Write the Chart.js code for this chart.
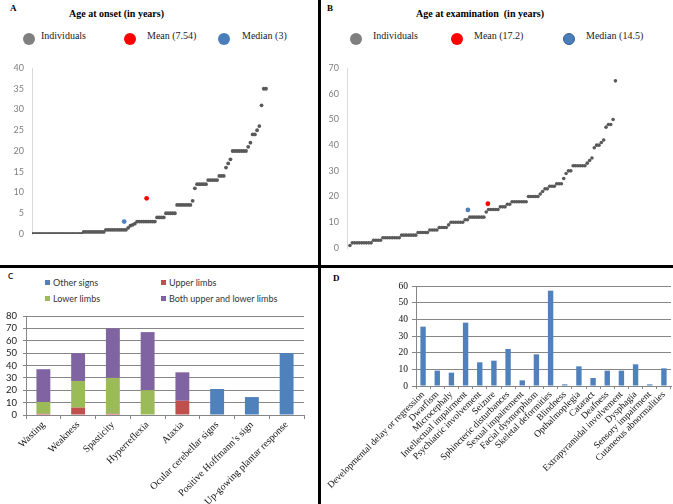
<!DOCTYPE html>
<html>
<head>
<meta charset="utf-8">
<script src="https://cdn.jsdelivr.net/npm/chart.js@4.4.1/dist/chart.umd.min.js"></script>
<style>
  body { margin: 0; width: 673px; height: 504px; position: relative; background: #fff; overflow: hidden; }
  .box { position: absolute; }
  .txt { position: absolute; white-space: nowrap; line-height: 1; }
  .serif { font-family: 'Liberation Serif', 'Times New Roman', serif; }
  .sans { font-family: Lato, 'Liberation Sans', sans-serif; }
  .dot { position: absolute; border-radius: 50%; box-sizing: border-box; }
  .sq { position: absolute; width: 5px; height: 5px; }
  .rule { position: absolute; background: #000; }
</style>
</head>
<body>

<div class="rule" style="left:318px; top:0; width:3px; height:504px;"></div>
<div class="rule" style="left:0; top:265px; width:673px; height:3px;"></div>

<!-- panel letters and titles -->
<div class="txt serif" style="left:10px; top:4px; font-size:9px; font-weight:bold;">A</div>
<div class="txt serif" style="left:327px; top:4px; font-size:9px; font-weight:bold;">B</div>
<div class="txt sans" style="left:8px; top:272px; font-size:8px; font-weight:bold; color:#222;">C</div>
<div class="txt serif" style="left:333px; top:274px; font-size:9px; font-weight:bold;">D</div>
<div class="txt serif" style="left:69px; top:9px; font-size:10px; font-weight:bold;">Age at onset (in years)</div>
<div class="txt serif" style="left:416px; top:9px; font-size:10px; font-weight:bold; white-space:pre;">Age at examination  (in years)</div>

<div id="legendA"></div>
<div id="legendB"></div>
<div id="legendC"></div>

<div class="box" style="left:0; top:62px; width:318px; height:178px;"><canvas id="chartA"></canvas></div>
<div class="box" style="left:322px; top:62px; width:351px; height:192px;"><canvas id="chartB"></canvas></div>
<div class="box" style="left:0; top:305px; width:318px; height:199px;"><canvas id="chartC"></canvas></div>
<div class="box" style="left:322px; top:280px; width:351px; height:224px;"><canvas id="chartD"></canvas></div>

<script>
// panel A - age at onset, sorted individuals
const ageOnset = [
  0, 0, 0, 0, 0, 0, 0, 0, 0, 0, 0, 0, 0, 0, 0, 0, 0, 0, 0, 0, 0, 0, 0,
  0.5, 0.5, 0.5, 0.5, 0.5, 0.5, 0.5, 0.5, 0.5, 0.5,
  1, 1, 1, 1, 1, 1, 1, 1, 1, 1,
  1.5, 2, 2.2, 2.5,
  3, 3, 3, 3, 3, 3, 3, 3, 3,
  4, 4, 4, 4,
  5, 5, 5, 5, 5,
  7, 7, 7, 7, 7, 7, 7,
  8, 11,
  12, 12, 12, 12, 12,
  13, 13, 13, 13, 13,
  14, 14, 14,
  16, 17, 18,
  20, 20, 20, 20, 20, 20, 20,
  21, 22, 24, 24, 25, 26, 31, 35, 35
];
const meanOnset = { label: 'Mean (7.54)', pos: 51.3, value: 8.6 };
const medianOnset = { label: 'Median (3)', pos: 41.2, value: 3 };

// panel B - age at examination, sorted individuals
const ageExam = [
  1,
  2, 2, 2, 2, 2, 2, 2, 2, 2,
  3, 3, 3, 3,
  4, 4, 4, 4, 4, 4, 4, 4,
  5, 5, 5, 5, 5, 5, 5,
  6, 6, 6, 6, 6,
  7, 7, 7, 7,
  8, 8, 8, 8,
  9,
  10, 10, 10, 10, 10, 10,
  11, 11,
  12, 12, 12, 12, 12, 12, 12,
  14,
  15, 15, 15, 15, 15,
  16, 16, 16,
  17, 17,
  18, 18, 18, 18, 18, 18, 18,
  20, 20, 20, 20, 20,
  21, 22, 23, 23,
  24, 24, 24,
  25, 25, 25,
  27, 29, 30, 30,
  32, 32, 32, 32, 32, 32,
  33, 34, 35,
  39, 40, 40, 41, 42,
  47, 48, 48,
  50, 65
];
const meanExam = { label: 'Mean (17.2)', pos: 58.7, value: 17.2 };
const medianExam = { label: 'Median (14.5)', pos: 50.2, value: 14.8 };

// panel C - neurological signs
const signLabels = ['Wasting', 'Weakness', 'Spasticity', 'Hyperreflexia', 'Ataxia',
  'Ocular cerebellar signs', 'Positive Hoffmann\u2019s sign', 'Up-gowing plantar response'];
const otherSigns = [0, 0, 0, 0, 0, 21, 14.5, 50];
const upperLimbs = [1, 6, 1, 0, 11.5, 0, 0, 0];
const lowerLimbs = [9.5, 21.5, 29, 20, 0, 0, 0, 0];
const bothLimbs = [26.5, 22.5, 40, 47, 23, 0, 0, 0];

// panel D - other features
const featureLabels = ['Developmental delay or regression', 'Dwarfism', 'Microcephaly',
  'Intellectual impairment', 'Psychiatric involvement', 'Seizure', 'Sphincteric disturbances',
  'Sexual impairement', 'Facial dysmorphism', 'Skeletal deformities', 'Blindness',
  'Opthalmoplegia', 'Cataract', 'Deafness', 'Extrapyramidal involvement', 'Dysphagia',
  'Sensory impairment', 'Cutaneous abnormalities'];
const featureValues = [35.6, 9.2, 8, 38, 14.2, 15.2, 22.2, 3.4, 19, 57.2, 1, 11.8, 4.8, 9.2, 9.2, 13, 1, 10.6];

const GRAY_DOT = '#595959';
const RED = '#ff0000';
const BLUE = '#4f81bd';
const C_BLUE = '#4f81bd', C_RED = '#c0504d', C_GREEN = '#9bbb59', C_PURPLE = '#8064a2';

// fixed axis sizes so the plot areas land where the figure has them
function fixWidth(w) {
  return function (scale) { scale.width = w; scale.paddingTop = 0; scale.paddingBottom = 0; };
}
function fixHeight(h) {
  return function (scale) { scale.height = h; scale.paddingLeft = 0; scale.paddingRight = 0; };
}

// html legends
function addCircle(parent, x, y, r, color, border) {
  const d = document.createElement('div');
  d.className = 'dot';
  d.style.left = (x - r) + 'px';
  d.style.top = (y - r) + 'px';
  d.style.width = (2 * r) + 'px';
  d.style.height = (2 * r) + 'px';
  d.style.background = color;
  if (border) d.style.border = '1.5px solid ' + border;
  parent.append(d);
}
function addText(parent, x, y, text, cls, size, color) {
  const t = document.createElement('div');
  t.className = 'txt ' + cls;
  t.style.left = x + 'px';
  t.style.top = y + 'px';
  t.style.fontSize = size + 'px';
  t.style.color = color;
  t.textContent = text;
  parent.append(t);
}
function addSquare(parent, x, y, color) {
  const s = document.createElement('div');
  s.className = 'sq';
  s.style.left = x + 'px';
  s.style.top = y + 'px';
  s.style.background = color;
  parent.append(s);
}

const legendA = document.getElementById('legendA');
addCircle(legendA, 29, 39, 6, '#7f7f7f');
addText(legendA, 41, 31, 'Individuals', 'serif', 10, '#222');
addCircle(legendA, 130, 38.5, 6, RED);
addText(legendA, 147, 31, meanOnset.label, 'serif', 10, '#222');
addCircle(legendA, 224, 39, 6, '#4a7ebb');
addText(legendA, 242, 31, medianOnset.label, 'serif', 10, '#222');

const legendB = document.getElementById('legendB');
addCircle(legendB, 356, 38.5, 6, '#7f7f7f');
addText(legendB, 373, 31, 'Individuals', 'serif', 10, '#222');
addCircle(legendB, 457, 38.5, 6, RED);
addText(legendB, 474, 31, meanExam.label, 'serif', 10, '#222');
addCircle(legendB, 569, 38.5, 6, '#4a7ebb', '#385d8a');
addText(legendB, 586, 31, medianExam.label, 'serif', 10, '#222');

const legendC = document.getElementById('legendC');
addSquare(legendC, 45, 279.5, C_BLUE);
addText(legendC, 53, 277.5, 'Other signs', 'sans', 9, '#333');
addSquare(legendC, 161, 279.5, C_RED);
addText(legendC, 169, 277.5, 'Upper limbs', 'sans', 9, '#333');
addSquare(legendC, 45, 296, C_GREEN);
addText(legendC, 53, 294, 'Lower limbs', 'sans', 9, '#333');
addSquare(legendC, 161, 296, C_PURPLE);
addText(legendC, 169, 294, 'Both upper and lower limbs', 'sans', 9, '#333');

function toPoints(values) {
  return values.map((v, i) => ({ x: i, y: v }));
}

function scatterOptions(xMin, xMax, yMax, step, yWidth) {
  return {
    responsive: true,
    maintainAspectRatio: false,
    animation: false,
    layout: { padding: { top: 6, bottom: 6, left: 0, right: 0 } },
    plugins: { legend: { display: false }, tooltip: { enabled: false } },
    scales: {
      x: { type: 'linear', display: false, min: xMin, max: xMax },
      y: {
        min: 0, max: yMax,
        ticks: { stepSize: step, autoSkip: false, color: '#7f7f7f', font: { family: 'Lato', size: 9 }, padding: 8 },
        grid: { display: false, drawTicks: false },
        border: { display: true, color: '#d9d9d9', width: 1 },
        afterFit: fixWidth(yWidth)
      }
    }
  };
}

new Chart(document.getElementById('chartA'), {
  type: 'scatter',
  data: {
    datasets: [
      { data: [{ x: meanOnset.pos, y: meanOnset.value }], backgroundColor: RED, borderWidth: 0, pointRadius: 2.4 },
      { data: [{ x: medianOnset.pos, y: medianOnset.value }], backgroundColor: BLUE, borderWidth: 0, pointRadius: 2.4 },
      { data: toPoints(ageOnset), backgroundColor: GRAY_DOT, borderWidth: 0, pointRadius: 1.9 }
    ]
  },
  options: scatterOptions(-0.27, 126.6, 40, 5, 32)
});

new Chart(document.getElementById('chartB'), {
  type: 'scatter',
  data: {
    datasets: [
      { data: [{ x: meanExam.pos, y: meanExam.value }], backgroundColor: RED, borderWidth: 0, pointRadius: 2.4 },
      { data: [{ x: medianExam.pos, y: medianExam.value }], backgroundColor: BLUE, borderWidth: 0, pointRadius: 2.4 },
      { data: toPoints(ageExam), backgroundColor: GRAY_DOT, borderWidth: 0, pointRadius: 1.8 }
    ]
  },
  options: scatterOptions(-1.26, 135.8, 70, 10, 25)
});

new Chart(document.getElementById('chartC'), {
  type: 'bar',
  data: {
    labels: signLabels,
    datasets: [
      { label: 'Upper limbs', data: upperLimbs, backgroundColor: C_RED },
      { label: 'Lower limbs', data: lowerLimbs, backgroundColor: C_GREEN },
      { label: 'Both upper and lower limbs', data: bothLimbs, backgroundColor: C_PURPLE },
      { label: 'Other signs', data: otherSigns, backgroundColor: C_BLUE }
    ]
  },
  options: {
    responsive: true,
    maintainAspectRatio: false,
    animation: false,
    layout: { padding: { top: 11, bottom: 0, left: 0, right: 14 } },
    datasets: { bar: { barPercentage: 0.4, categoryPercentage: 1, borderWidth: 0 } },
    plugins: { legend: { display: false }, tooltip: { enabled: false } },
    scales: {
      x: {
        stacked: true,
        grid: { drawOnChartArea: false, drawTicks: true, tickLength: 4, offset: true, color: '#868686' },
        border: { color: '#868686' },
        ticks: { autoSkip: false, minRotation: 45, maxRotation: 45, padding: 0, color: '#111',
          font: { family: 'Liberation Serif', size: 10 } },
        afterFit: fixHeight(89)
      },
      y: {
        stacked: true, min: 0, max: 80,
        ticks: { stepSize: 10, autoSkip: false, padding: 6, color: '#222', font: { family: 'Lato', size: 9.5 } },
        grid: { color: '#868686', tickLength: 3 },
        border: { color: '#868686' },
        afterFit: fixWidth(26)
      }
    }
  }
});

new Chart(document.getElementById('chartD'), {
  type: 'bar',
  data: {
    labels: featureLabels,
    datasets: [{ data: featureValues, backgroundColor: C_BLUE }]
  },
  options: {
    responsive: true,
    maintainAspectRatio: false,
    animation: false,
    layout: { padding: { top: 6, bottom: 0, left: 0, right: 2 } },
    datasets: { bar: { barPercentage: 0.38, categoryPercentage: 1, borderWidth: 0 } },
    plugins: { legend: { display: false }, tooltip: { enabled: false } },
    scales: {
      x: {
        grid: { drawOnChartArea: false, drawTicks: true, tickLength: 3, offset: true, color: '#868686' },
        border: { color: '#868686' },
        ticks: { autoSkip: false, minRotation: 45, maxRotation: 45, padding: 0, color: '#111',
          font: { family: 'Liberation Serif', size: 9.5 } },
        afterFit: fixHeight(118)
      },
      y: {
        min: 0, max: 60,
        ticks: { stepSize: 10, autoSkip: false, padding: 4, color: '#111', font: { family: 'Liberation Serif', size: 9.5 } },
        grid: { color: '#868686', tickLength: 4 },
        border: { color: '#868686' },
        afterFit: fixWidth(94)
      }
    }
  }
});
</script>
</body>
</html>
